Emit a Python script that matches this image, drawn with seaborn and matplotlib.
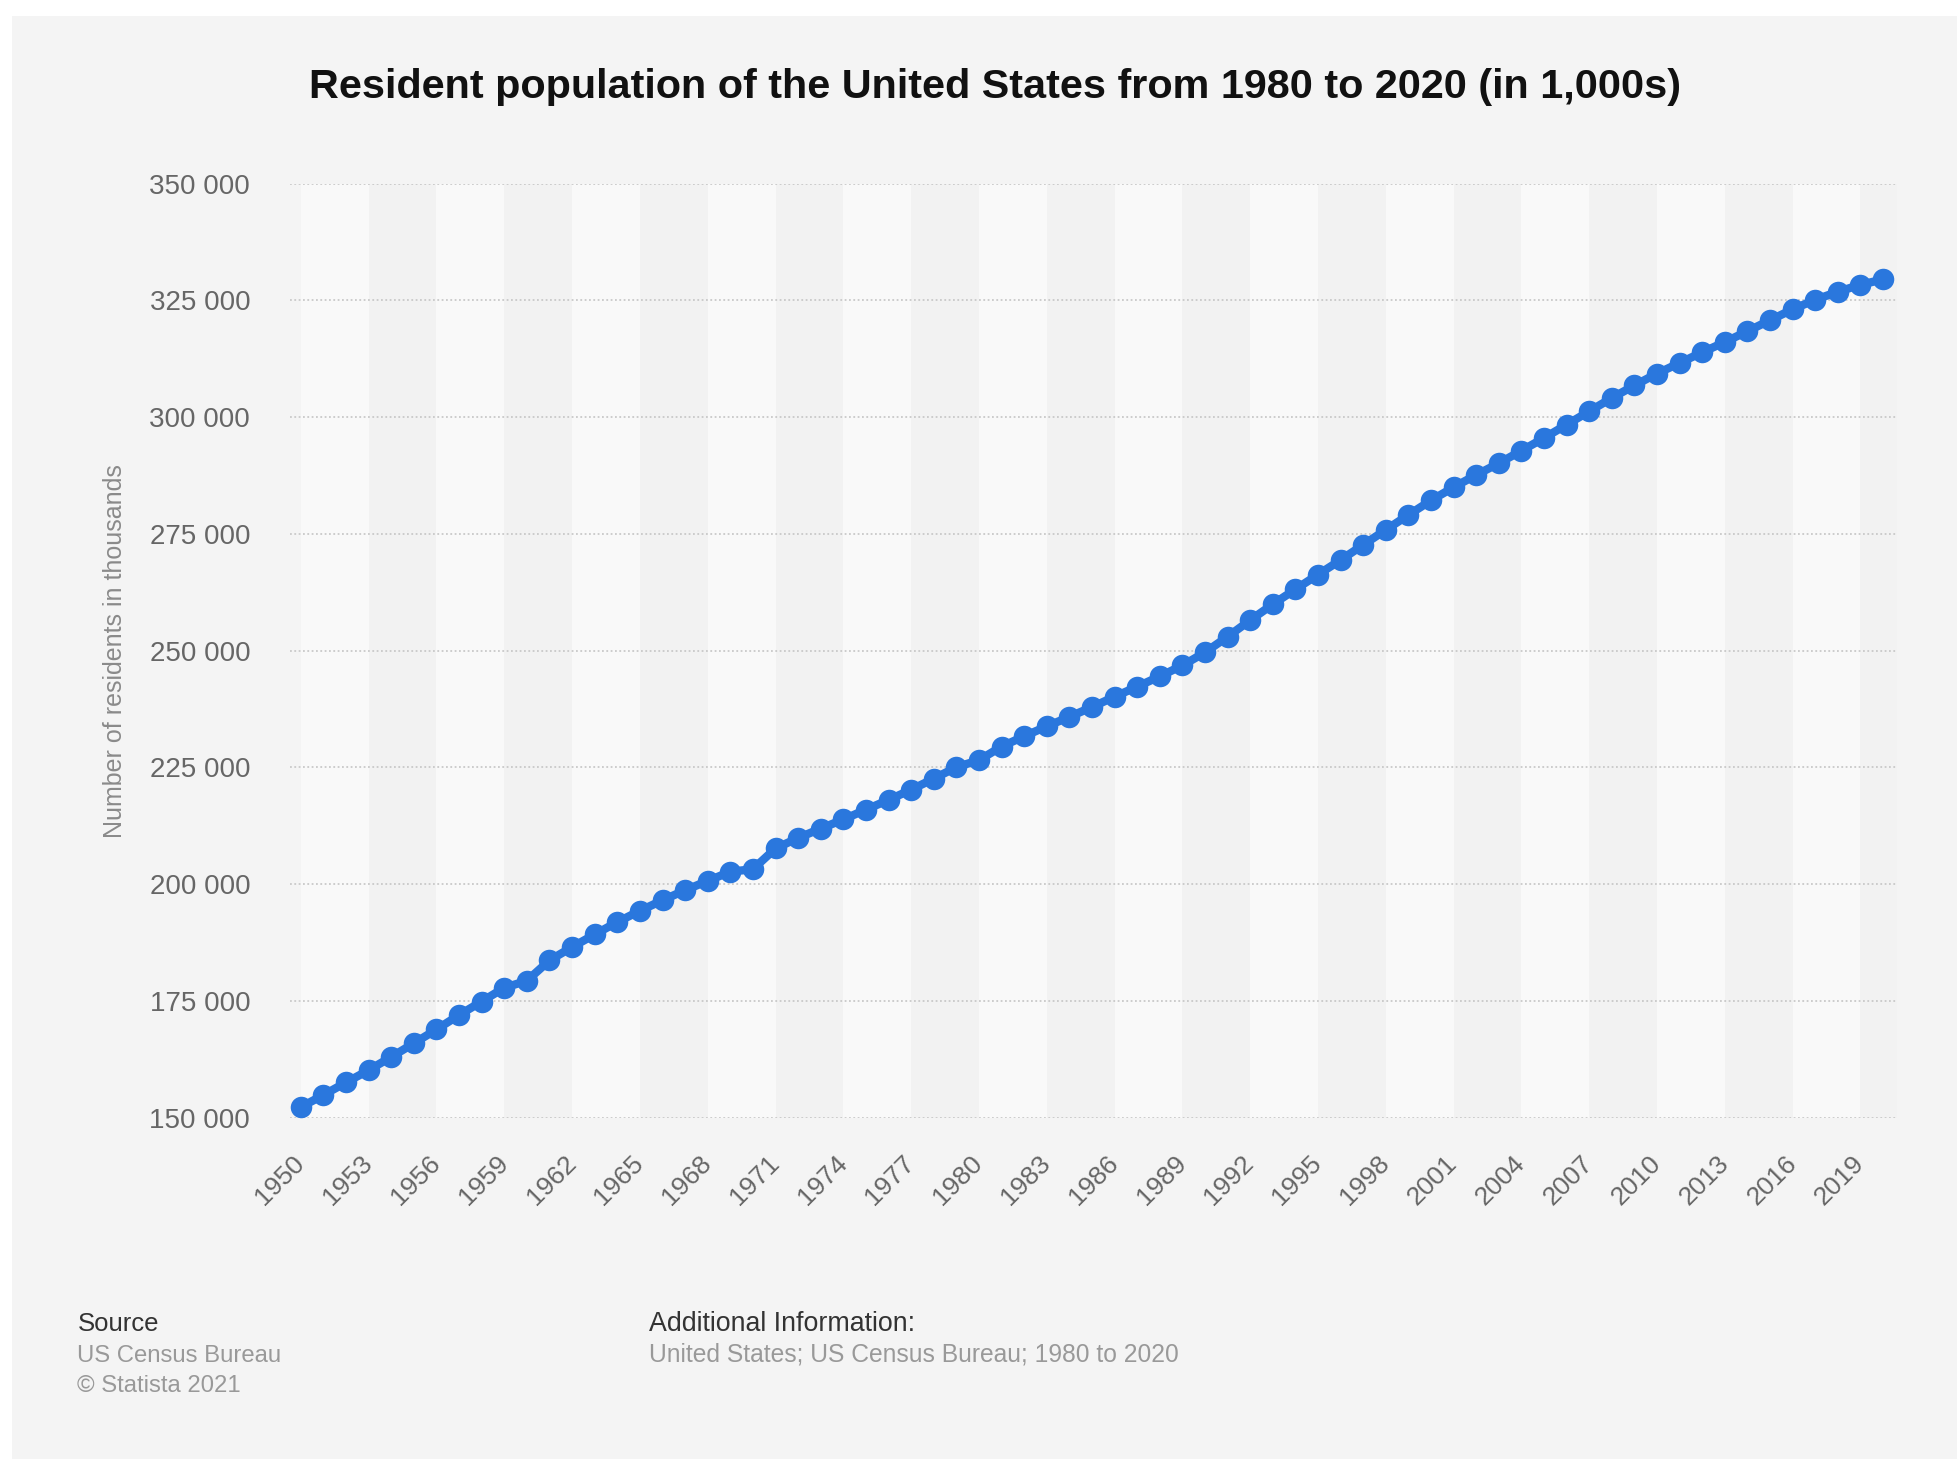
import matplotlib
matplotlib.use("Agg")
import matplotlib.pyplot as plt
import matplotlib.ticker as mticker
from matplotlib.patches import Rectangle
import seaborn as sns
import pandas as pd

# --------------------------------------------------------------
# Data (population in 1,000s)
# --------------------------------------------------------------
years = list(range(1950, 2021))
population = [
    152271, 154878, 157553, 160184, 163026, 165931, 168903, 171984, 174882, 177830,
    179323, 183691, 186538, 189242, 191889, 194303, 196560, 198712, 200706, 202677,
    203212, 207661, 209896, 211909, 213854, 215973, 218035, 220239, 222585, 225055,
    226546, 229466, 231664, 233792, 235825, 237924, 240133, 242289, 244499, 246819,
    249623, 252981, 256514, 259919, 263126, 266278, 269394, 272647, 275854, 279040,
    282162, 284969, 287625, 290108, 292805, 295517, 298380, 301231, 304094, 306772,
    309327, 311583, 313878, 316060, 318386, 320739, 323072, 325122, 326838, 328330,
    329484,
]
tick_years = list(range(1950, 2020, 3))
y_ticks = [150000, 175000, 200000, 225000, 250000, 275000, 300000, 325000, 350000]

title = "Resident population of the United States from 1980 to 2020 (in 1,000s)"
y_label = "Number of residents in thousands"

df = pd.DataFrame({"year": years, "population": population})

# --------------------------------------------------------------
# Style
# --------------------------------------------------------------
sns.set_theme(style="white")
plt.rcParams["font.family"] = ["Liberation Sans", "DejaVu Sans"]

PANEL = "#f4f4f4"
BLUE = "#2a77dd"

fig = plt.figure(figsize=(19.58, 14.59), dpi=100)
fig.patch.set_facecolor("white")
fig.patches.append(Rectangle((0.0061, 0.0), 1.0, 0.989, transform=fig.transFigure,
                             facecolor=PANEL, edgecolor="none", zorder=-5))

ax = fig.add_axes([0.148, 0.2339, 0.821, 0.6403])
ax.set_zorder(2)
ax.set_facecolor(PANEL)

# alternating column bands, one band per tick interval
step = tick_years[1] - tick_years[0]
for i, t in enumerate(tick_years):
    ax.axvspan(t, t + step, color="#f9f9f9" if i % 2 == 0 else "#f2f2f2",
               lw=0, zorder=0)

ax.set_yticks(y_ticks)
for v in y_ticks:
    ax.axhline(v, color="#c9c9c9", lw=1.3, ls=(0, (1, 1.4)), zorder=1)

sns.lineplot(data=df, x="year", y="population", ax=ax, color=BLUE,
             linewidth=6, marker="o", markersize=15.5, markeredgewidth=0,
             zorder=3, clip_on=False)

ax.set_xlim(years[0] - 0.49, years[-1] + 0.63)
ax.set_ylim(y_ticks[0], y_ticks[-1])
sns.despine(ax=ax, left=True, bottom=True)

ax.set_xticks(tick_years)
ax.set_xticklabels([str(t) for t in tick_years])
ax.yaxis.set_major_formatter(mticker.FuncFormatter(lambda v, _: f"{int(v):,}".replace(",", " ")))
ax.tick_params(axis="y", length=0, pad=28.5, labelsize=20, labelcolor="#666666")
ax.tick_params(axis="x", length=0, pad=30, labelsize=19, labelcolor="#666666")
plt.setp(ax.get_xticklabels(), rotation=45, ha="right", va="center", rotation_mode="anchor")
ax.set_xlabel("")
ax.set_ylabel("")

fig.text(0.0587, 0.554, y_label, rotation=90, ha="center", va="center",
         fontsize=18, color="#8a8a8a")

# --------------------------------------------------------------
# Title and footer
# --------------------------------------------------------------
fig.text(0.508, 0.9326, title, ha="center", va="baseline",
         fontsize=29.8, fontweight="bold", color="#111111")

fig.text(0.0395, 0.0879, "Source", ha="left", va="baseline", fontsize=18.5, color="#333333")
fig.text(0.0395, 0.0667, "US Census Bureau", ha="left", va="baseline", fontsize=17.2, color="#999999")
fig.text(0.0395, 0.0461, "\u00a9 Statista 2021", ha="left", va="baseline", fontsize=17.2, color="#999999")
fig.text(0.3315, 0.0879, "Additional Information:", ha="left", va="baseline", fontsize=19.3, color="#333333")
fig.text(0.3315, 0.0667, "United States; US Census Bureau; 1980 to 2020", ha="left", va="baseline",
         fontsize=17.7, color="#999999")

fig.savefig("out.png", dpi=100, facecolor=fig.get_facecolor())
